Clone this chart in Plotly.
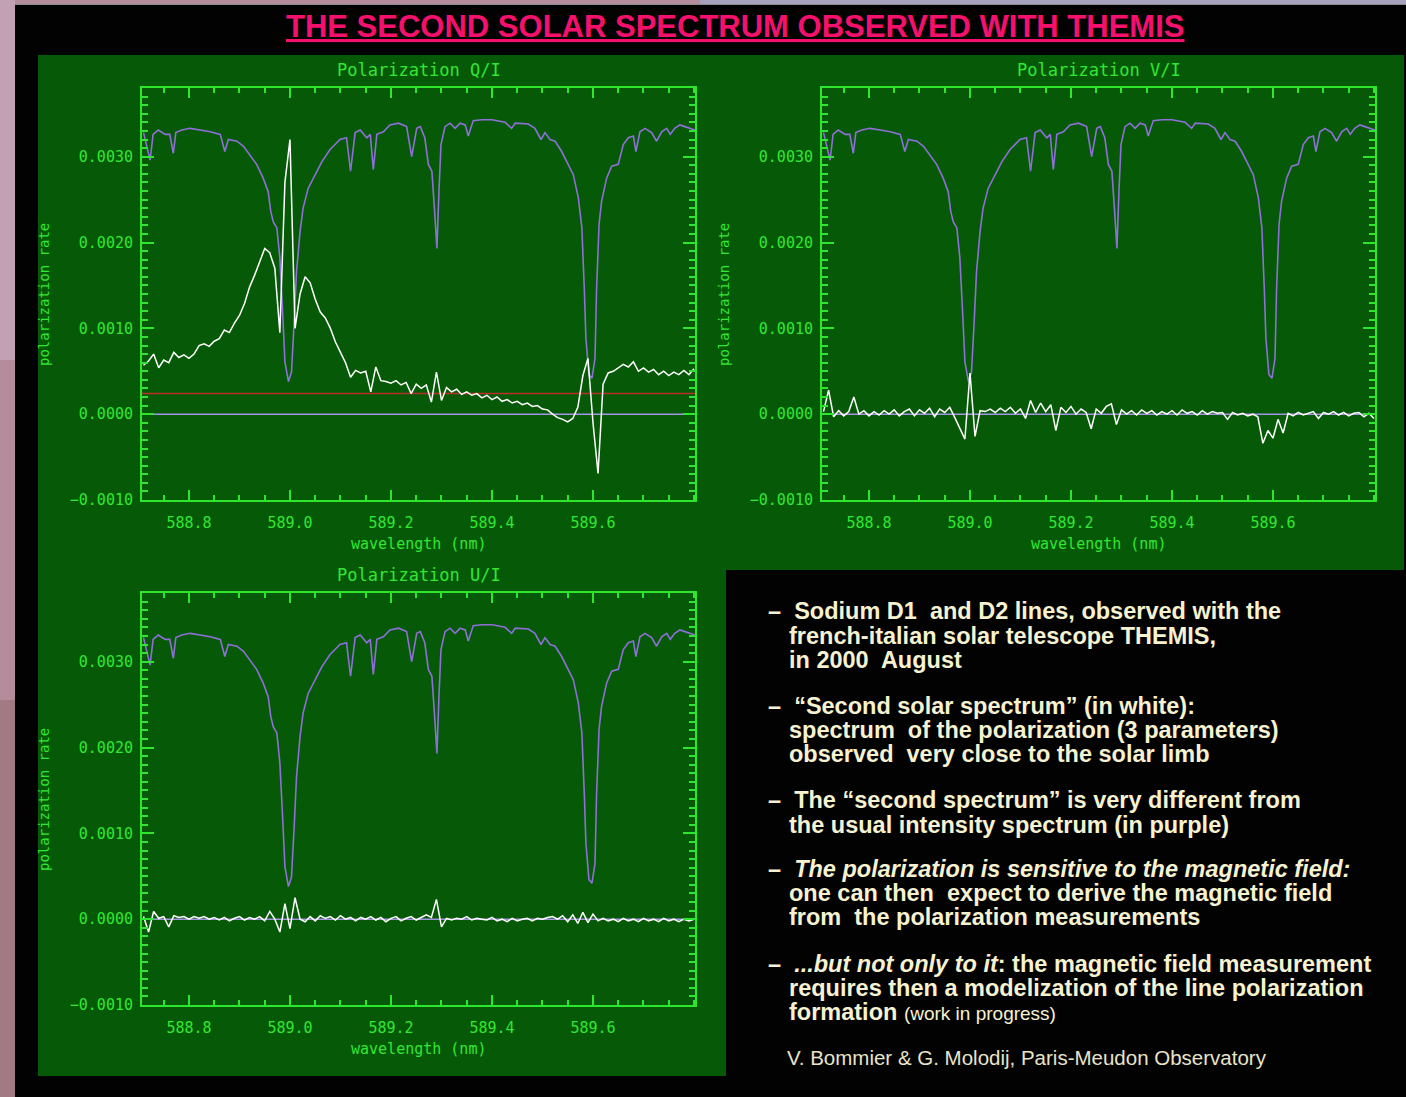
import plotly.graph_objects as go

W, H = 1406, 1097          # reference picture size (layout coordinates)
H_RENDER = 1106            # rendered page height (captured area is squeezed back to 1097)

# ---------------- data ----------------
# common wavelength grid of the polarization spectra (nm)
WL = [588.71, 588.72, 588.73, 588.74, 588.75, 588.76, 588.77, 588.78, 588.79, 588.80,
      588.81, 588.82, 588.83, 588.84, 588.85, 588.86, 588.87, 588.88, 588.89, 588.90,
      588.91, 588.92, 588.93, 588.94, 588.95, 588.96, 588.97, 588.98, 588.99, 589.00,
      589.01, 589.02, 589.03, 589.04, 589.05, 589.06, 589.07, 589.08, 589.09, 589.10,
      589.11, 589.12, 589.13, 589.14, 589.15, 589.16, 589.17, 589.18, 589.19, 589.20,
      589.21, 589.22, 589.23, 589.24, 589.25, 589.26, 589.27, 589.28, 589.29, 589.30,
      589.31, 589.32, 589.33, 589.34, 589.35, 589.36, 589.37, 589.38, 589.39, 589.40,
      589.41, 589.42, 589.43, 589.44, 589.45, 589.46, 589.47, 589.48, 589.49, 589.50,
      589.51, 589.52, 589.53, 589.54, 589.55, 589.56, 589.57, 589.58, 589.59, 589.60,
      589.61, 589.62, 589.63, 589.64, 589.65, 589.66, 589.67, 589.68, 589.69, 589.70,
      589.71, 589.72, 589.73, 589.74, 589.75, 589.76, 589.77, 589.78, 589.79, 589.80]

UNIT = 1e-4  # polarization values below are given in units of 1e-4

Q_I = [5.7, 6.2, 7.0, 5.4, 6.3, 6.0, 7.2, 6.6, 6.9, 6.5,
       7.0, 8.0, 8.2, 7.9, 8.5, 8.8, 9.8, 9.5, 10.6, 11.5,
       12.9, 14.8, 16.2, 17.7, 19.3, 18.8, 17.0, 9.5, 27.0, 32.0,
       10.0, 14.0, 16.0, 15.3, 13.4, 11.9, 11.2, 10.0, 8.4, 7.2,
       6.0, 4.3, 5.1, 4.8, 5.0, 2.6, 5.5, 3.9, 3.8, 3.6,
       3.9, 3.4, 3.7, 2.4, 3.5, 3.0, 3.4, 1.4, 4.9, 1.6,
       3.1, 2.6, 2.9, 2.3, 2.6, 2.2, 2.4, 1.9, 2.2, 1.7,
       2.0, 1.5, 1.7, 1.3, 1.5, 1.1, 1.3, 0.9, 1.0, 0.6,
       0.5, 0.0, -0.4, -0.6, -0.9, -0.5, 0.8, 4.5, 6.5, -1.0,
       -6.9, 3.5, 4.8, 5.0, 5.4, 5.8, 5.5, 6.1, 5.0, 5.4,
       4.9, 5.2, 4.6, 5.0, 4.5, 4.9, 4.6, 5.1, 4.6, 5.3]

V_I = [0.3, 2.8, -0.3, 0.4, -0.2, 0.3, 2.0, 0.0, 0.4, -0.2,
       0.3, -0.1, 0.4, 0.0, 0.5, -0.2, 0.3, 0.6, -0.2, 0.5,
       0.1, 0.7, -0.3, 0.6, 0.2, 0.8, -0.4, -1.7, -2.9, 4.8,
       -2.6, 0.4, 0.3, 0.6, 0.2, 0.7, 0.3, 0.8, 0.1, 0.6,
       -0.5, 1.6, 0.2, 1.3, 0.3, 1.1, -1.9, 0.8, 0.2, 0.9,
       0.0, 0.6, 0.2, -1.7, 0.6, 0.1, 0.9, 1.2, -1.2, 0.5,
       0.0, 0.4, -0.1, 0.5, 0.1, 0.4, -0.1, 0.3, 0.0, 0.4,
       -0.1, 0.5, 0.1, 0.3, -0.1, 0.4, 0.0, 0.3, 0.1, 0.2,
       -0.6, 0.2, -0.1, 0.1, -0.2, 0.0, -0.3, -3.4, -1.9, -2.8,
       -0.6, -2.2, 0.1, -0.2, 0.2, -0.1, 0.1, 0.3, -0.5, 0.2,
       0.0, 0.3, -0.1, 0.2, -0.2, 0.1, 0.2, -0.3, 0.1, -0.5]

U_I = [0.3, -1.5, 0.9, 0.1, 0.3, -0.9, 0.4, 0.2, 0.3, 0.0,
       0.3, 0.1, 0.3, 0.0, 0.2, -0.1, 0.2, -0.2, 0.1, 0.3,
       -0.1, 0.2, 0.0, 0.3, -0.2, 0.9, 0.0, -1.5, 1.8, -1.1,
       2.5, 0.0, -0.3, 0.3, -0.2, 0.4, 0.1, 0.3, -0.1, 0.4,
       0.0, 0.2, -0.2, 0.2, 0.0, 0.3, -0.1, 0.2, -0.3, 0.1,
       0.3, -0.2, 0.1, 0.3, -0.1, 0.2, 0.5, 0.2, 2.3, -0.9,
       0.1, -0.1, 0.1, 0.0, 0.3, -0.1, 0.1, 0.0, -0.1, 0.2,
       -0.2, 0.0, -0.3, 0.1, -0.2, 0.0, 0.1, -0.2, 0.1, 0.0,
       0.2, 0.3, 0.0, 0.4, -0.3, 0.5, -0.5, 0.8, -0.4, 0.6,
       -0.2, 0.1, -0.2, 0.0, -0.3, 0.1, -0.2, 0.0, -0.3, 0.1,
       -0.2, 0.0, -0.3, 0.1, -0.2, 0.0, -0.3, 0.0, -0.2, 0.0]

# intensity spectrum (purple), scaled to the plot, same in all panels
INT_WL = [588.710, 588.723, 588.729, 588.739, 588.753, 588.762, 588.769, 588.774, 588.786, 588.802,
          588.822, 588.842, 588.862, 588.871, 588.878, 588.895, 588.908, 588.921, 588.934, 588.947,
          588.957, 588.962, 588.967, 588.974, 588.980, 588.986, 588.990, 588.997, 589.003, 589.008,
          589.013, 589.020, 589.026, 589.036, 589.046, 589.063, 589.079, 589.099, 589.112, 589.120,
          589.129, 589.139, 589.152, 589.159, 589.165, 589.172, 589.185, 589.198, 589.215, 589.231,
          589.241, 589.251, 589.258, 589.267, 589.274, 589.281, 589.286, 589.291, 589.295, 589.299,
          589.307, 589.317, 589.327, 589.337, 589.347, 589.353, 589.363, 589.380, 589.400, 589.426,
          589.439, 589.446, 589.472, 589.485, 589.497, 589.505, 589.515, 589.525, 589.538, 589.551,
          589.561, 589.571, 589.578, 589.583, 589.586, 589.592, 589.598, 589.604, 589.607, 589.612,
          589.617, 589.627, 589.637, 589.650, 589.660, 589.670, 589.680, 589.685, 589.693, 589.703,
          589.716, 589.726, 589.736, 589.746, 589.753, 589.762, 589.772, 589.782, 589.792, 589.802]
INT_VAL = [32.8, 29.6, 32.6, 33.1, 32.6, 32.6, 30.4, 32.8, 33.1, 33.3,
           33.1, 32.9, 32.6, 30.6, 32.0, 31.8, 31.2, 30.2, 29.1, 27.5,
           25.9, 23.6, 22.4, 21.7, 18.2, 11.2, 6.1, 3.8, 4.9, 10.4,
           16.6, 21.3, 24.0, 26.3, 27.5, 29.4, 30.8, 32.0, 32.2, 28.3,
           32.8, 33.1, 32.2, 32.6, 28.5, 32.6, 32.9, 33.7, 33.9, 33.5,
           30.0, 33.3, 33.5, 32.2, 29.1, 28.3, 24.0, 19.3, 25.9, 31.4,
           33.5, 33.9, 33.3, 33.9, 33.7, 32.4, 34.2, 34.3, 34.3, 34.0,
           33.3, 33.9, 33.8, 33.3, 32.0, 32.8, 32.0, 31.8, 30.6, 29.1,
           27.9, 25.2, 21.7, 14.3, 8.8, 4.6, 4.2, 6.5, 14.3, 22.1,
           24.8, 27.5, 28.9, 29.1, 31.4, 32.2, 32.4, 30.6, 32.9, 33.3,
           32.8, 31.8, 32.9, 33.3, 32.6, 33.3, 33.7, 33.5, 33.3, 33.1]

ZERO_LEVEL = 0.0
RED_LEVEL = 0.00024

PANELS = ["Polarization Q/I", "Polarization V/I", "Polarization U/I"]
X_TICKS = [588.8, 589.0, 589.2, 589.4, 589.6]
Y_TICKS = [-0.001, 0.0, 0.001, 0.002, 0.003]

# ---------------- styles ----------------
GREEN_BG = "#065a07"
AX = "#2ee62e"
TXT = "#33e633"
PURPLE = "#8f6fd8"
ZLINE = "#a394e6"
RED = "#b8302a"
CREAM = "#f6f2d0"
MONO = "DejaVu Sans Mono"
PINK = "#b48c9c"


def px(x):
    return x / W


def py(y):
    return 1 - y / H


def rect(x0, y0, x1, y1, color):
    return dict(type="rect", xref="paper", yref="paper", x0=px(x0), x1=px(x1),
                y0=py(y1), y1=py(y0), fillcolor=color, line_width=0, layer="below")


fig = go.Figure()

# axis boxes in pixels: (left, top, right, bottom)
boxes = [(142, 88, 695, 500), (822, 88, 1375, 500), (142, 593, 695, 1005)]
pol = [Q_I, V_I, U_I]

shapes = [
    rect(0, 0, W, H, PINK),
    rect(0, 0, 15, 360, "#c3a1b5"),
    rect(0, 700, 15, H, "#a27a84"),
    rect(700, 0, W, 5, "#a6a2bc"),
    rect(15, 4, W, 6, "#8c8c94"),
    rect(15, 5, W, H, "#020203"),
    rect(38, 55, 1404, 570, GREEN_BG),
    rect(38, 570, 726, 1076, GREEN_BG),
]

annotations = []
for i, (box, series) in enumerate(zip(boxes, pol)):
    n = "" if i == 0 else str(i + 1)
    xa, ya = "x" + n, "y" + n
    l, t, r, b = box
    fig.add_trace(go.Scatter(x=INT_WL, y=[v * UNIT for v in INT_VAL], mode="lines",
                             line=dict(color=PURPLE, width=1.6), xaxis=xa, yaxis=ya,
                             showlegend=False, hoverinfo="skip"))
    fig.add_trace(go.Scatter(x=WL, y=[v * UNIT for v in series], mode="lines",
                             line=dict(color="#ffffff", width=1.5), xaxis=xa, yaxis=ya,
                             showlegend=False, hoverinfo="skip"))
    shapes.append(dict(type="line", xref=xa + " domain", yref=ya, x0=0, x1=1,
                       y0=ZERO_LEVEL, y1=ZERO_LEVEL, line=dict(color=ZLINE, width=1.5),
                       layer="below"))
    if i == 0:
        shapes.append(dict(type="line", xref=xa + " domain", yref=ya, x0=0, x1=1,
                           y0=RED_LEVEL, y1=RED_LEVEL, line=dict(color=RED, width=1.6),
                           layer="below"))
    axcommon = dict(showline=True, linecolor=AX, linewidth=2, mirror="allticks",
                    ticks="inside", tickcolor=AX, tickwidth=2, showgrid=False,
                    zeroline=False, tickfont=dict(family=MONO, size=15, color=TXT))
    fig.layout["xaxis" + n] = dict(
        axcommon, domain=[px(l), px(r)], range=[588.707, 589.802], anchor=ya,
        tickvals=X_TICKS, tickformat=".1f", ticklen=10, ticklabelstandoff=8,
        minor=dict(dtick=0.05, tick0=588.8, ticks="inside", ticklen=5, tickcolor=AX, tickwidth=1.5))
    fig.layout["yaxis" + n] = dict(
        axcommon, domain=[py(b), py(t)], range=[-0.001, 0.0038], anchor=xa,
        tickvals=Y_TICKS, tickformat=".4f", ticklen=12, ticklabelstandoff=4,
        minor=dict(dtick=0.0001, tick0=0, ticks="inside", ticklen=6, tickcolor=AX, tickwidth=1.5))
    cx = (l + r) / 2
    annotations.append(dict(text=PANELS[i], x=px(cx), y=py(t - 18), xref="paper", yref="paper",
                            showarrow=False, font=dict(family=MONO, size=17, color=TXT),
                            xanchor="center", yanchor="middle"))
    annotations.append(dict(text="wavelength (nm)", x=px(cx), y=py(b + 44), xref="paper",
                            yref="paper", showarrow=False,
                            font=dict(family=MONO, size=15, color=TXT),
                            xanchor="center", yanchor="middle"))
    annotations.append(dict(text="polarization rate", x=px(l - 98), y=py((t + b) / 2 + 1),
                            xref="paper", yref="paper", showarrow=False, textangle=-90,
                            font=dict(family=MONO, size=14, color=TXT),
                            xanchor="center", yanchor="middle"))

# title
annotations.append(dict(text="<b><u>THE SECOND SOLAR SPECTRUM OBSERVED WITH THEMIS</u></b>",
                        x=px(736), y=py(27), xref="paper", yref="paper", showarrow=False,
                        font=dict(family="Liberation Sans", size=31, color="#f5106e"),
                        xanchor="center", yanchor="middle"))

# text box
lines = [
    (766, 611, "<b>–  Sodium D1  and D2 lines, observed with the</b>"),
    (787, 636, "<b>french-italian solar telescope THEMIS,</b>"),
    (787, 660, "<b>in 2000  August</b>"),
    (766, 706, "<b>–  “Second solar spectrum” (in white):</b>"),
    (787, 730, "<b>spectrum  of the polarization (3 parameters)</b>"),
    (787, 754, "<b>observed  very close to the solar limb</b>"),
    (766, 800, "<b>–  The “second spectrum” is very different from</b>"),
    (787, 825, "<b>the usual intensity spectrum (in purple)</b>"),
    (766, 869, "<b>–  <i>The polarization is sensitive to the magnetic field:</i></b>"),
    (787, 893, "<b>one can then  expect to derive the magnetic field</b>"),
    (787, 917, "<b>from  the polarization measurements</b>"),
    (766, 964, "<b>–  <i>...but not only to it</i>: the magnetic field measurement</b>"),
    (787, 988, "<b>requires then a modelization of the line polarization</b>"),
    (787, 1012, "<b>formation</b> <span style='font-size:19px'>(work in progress)</span>"),
]
for x, y, t in lines:
    annotations.append(dict(text=t, x=px(x), y=py(y), xref="paper", yref="paper",
                            showarrow=False, xanchor="left", yanchor="middle",
                            font=dict(family="Liberation Sans", size=23.5, color=CREAM)))
annotations.append(dict(text="V. Bommier & G. Molodij, Paris-Meudon Observatory",
                        x=px(785), y=py(1057), xref="paper", yref="paper", showarrow=False,
                        xanchor="left", yanchor="middle",
                        font=dict(family="Liberation Sans", size=20.5, color="#e8e4c8")))

fig.update_layout(width=W, height=H_RENDER, margin=dict(l=0, r=0, t=0, b=0), autosize=False,
                  paper_bgcolor=PINK, plot_bgcolor="rgba(0,0,0,0)",
                  shapes=shapes, annotations=annotations, showlegend=False)

post = (
    "var d=document.getElementById('{plot_id}');"
    "document.documentElement.style.margin='0';"
    "document.documentElement.style.padding='0';"
    "document.documentElement.style.overflow='hidden';"
    "document.body.style.margin='0';"
    "document.body.style.padding='0';"
    "document.body.style.overflow='hidden';"
    "document.body.style.background='" + PINK + "';"
    "d.style.position='fixed';d.style.left='0px';d.style.top='0px';"
)
fig.write_html("out.html", config={"displayModeBar": False}, post_script=post)
